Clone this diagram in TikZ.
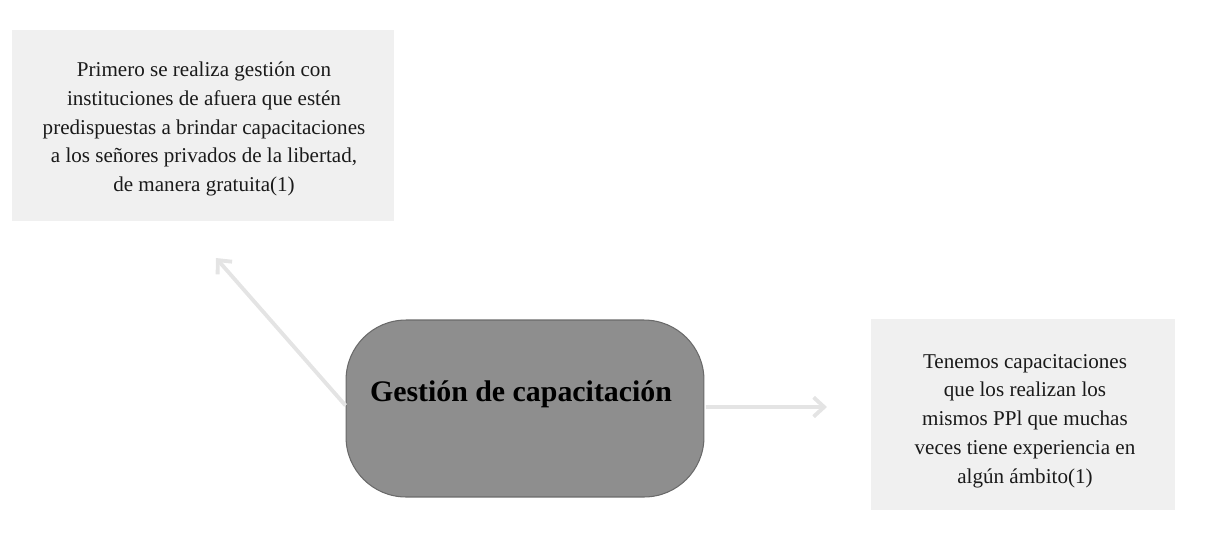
\documentclass[tikz,border=0pt]{standalone}
\usepackage{fontspec}
\setmainfont{Liberation Serif}
\usetikzlibrary{arrows.meta}
\definecolor{boxfill}{HTML}{F0F0F0}
\definecolor{hubfill}{HTML}{8E8E8E}
\definecolor{hubdraw}{HTML}{6A6A6A}
\definecolor{arrowgray}{HTML}{E4E4E4}
\definecolor{txt}{HTML}{1A1A1A}
\tikzset{
  infobox/.style={fill=boxfill, draw=none, inner sep=0pt},
  infotext/.style={inner sep=0pt, align=center, text=txt,
    font=\fontsize{12pt}{16.4pt}\selectfont},
  hub/.style={fill=hubfill, draw=hubdraw, line width=0.6pt, rounded corners=1.2cm,
    minimum width=7.16cm, minimum height=3.54cm, inner sep=0pt},
  hubtext/.style={font=\fontsize{17pt}{20pt}\selectfont\bfseries, text=black, inner sep=0pt},
  link/.style={draw=arrowgray, line width=2.2pt, -{Straight Barb[length=6pt,width=11pt,line width=2.2pt]}}
}
\begin{document}
\begin{tikzpicture}[x=0.02cm,y=-0.02cm]
\useasboundingbox (0,0) rectangle (1208,535);
\node[infobox, minimum width=7.64cm, minimum height=3.82cm] (left) at (203,125.5) {};
\node[infotext] (lefttext) at (204,129)
  {Primero se realiza gestión con\\instituciones de afuera que estén\\predispuestas a brindar capacitaciones\\a los señores privados de la libertad,\\de manera gratuita(1)};
\node[infobox, minimum width=6.08cm, minimum height=3.82cm] (right) at (1023,414.5) {};
\node[infotext] (righttext) at (1025,421)
  {Tenemos capacitaciones\\que los realizan los\\mismos PPl que muchas\\veces tiene experiencia en\\algún ámbito(1)};
\node[hub] (hub) at (525,408.5) {};
\node[hubtext] (hublabel) at (521,394) {Gestión de capacitación};
\coordinate (lefttip) at (216,258);
\coordinate (righttip) at (827,407);
\draw[link] ([yshift=0.06cm]hub.west) -- (lefttip);
\draw[link] ([yshift=0.03cm,xshift=0.03cm]hub.east) -- (righttip);
\end{tikzpicture}
\end{document}
